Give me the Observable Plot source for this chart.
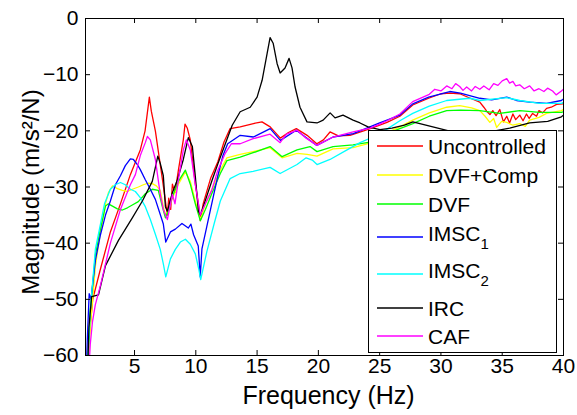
<!DOCTYPE html>
<html><head><meta charset="utf-8">
<script src="https://cdn.jsdelivr.net/npm/d3@7"></script>
<script src="https://cdn.jsdelivr.net/npm/@observablehq/plot@0.6"></script>
<style>body{margin:0;background:#fff}</style>
</head><body><div id="chart"></div>
<script>
const seriesNames = ["Uncontrolled","DVF+Comp","DVF","IMSC1","IMSC2","IRC","CAF"];
const seriesColors = ["#ff0000","#ffff00","#00ff00","#0000ff","#00ffff","#000000","#ff00ff"];

const uncontrolled = [[1.1,-64],[1.28,-57],[1.59,-50],[2.22,-44.6],[3.03,-38],[3.85,-33],[4.66,-27.8],[5.47,-23.4],[5.86,-20],[6.21,-14],[6.37,-16.5],[6.7,-20],[7.1,-26],[7.3,-29],[7.52,-32.5],[7.68,-35],[7.79,-32],[7.95,-34],[8.09,-29.5],[8.3,-31],[8.58,-27],[8.98,-21.6],[9.12,-18.8],[9.3,-19.5],[9.55,-21.6],[9.96,-29.5],[10.21,-33],[10.37,-36],[10.6,-33],[11.2,-28.5],[11.8,-25.5],[12.3,-22],[12.8,-19.6],[13.62,-19.3],[14.7,-18.7],[15.4,-18.4],[16.07,-19.3],[16.9,-21.3],[17.56,-20.3],[18.2,-19.6],[19.08,-20.8],[19.87,-22.3],[20.41,-21.6],[20.95,-20.2],[21.63,-20.9],[22.58,-20.8],[24.0,-19.8],[25.0,-19],[25.6,-18.5],[26.65,-17.4],[27.7,-15.4],[29.0,-14.2],[30.0,-13.4],[30.72,-13.3],[31.53,-13.4],[32.4,-14.2],[33.17,-14.9],[33.5,-15.8],[33.73,-16.5],[34.0,-17.1],[34.23,-16.4],[34.5,-17.3],[34.8,-16.2],[35.1,-18.4],[35.37,-17.4],[35.6,-18.6],[35.87,-17.0],[36.1,-18.0],[36.43,-17.2],[36.7,-18.2],[36.98,-17.0],[37.2,-17.8],[37.48,-16.9],[37.8,-17.4],[38.0,-16.4],[38.3,-16.8],[38.62,-16.0],[39.0,-15.8],[39.44,-15.3],[40,-15.2]];

const dvfComp = [[1.18,-64],[1.39,-55],[1.81,-44],[2.22,-38],[2.63,-33],[2.87,-31],[3.2,-29.8],[3.6,-30.3],[4.01,-30.6],[4.42,-30.8],[4.82,-30.4],[5.31,-30],[5.72,-29.6],[6.13,-29.3],[6.45,-29.4],[6.78,-29.8],[7.1,-30.6],[7.35,-33.5],[7.52,-35],[7.79,-34],[8.09,-32],[8.58,-29.5],[9.15,-27.3],[9.55,-29],[9.96,-32.5],[10.37,-35.8],[10.78,-33],[11.3,-30.5],[12.0,-27],[12.54,-24.8],[13.62,-24.2],[14.68,-23.7],[16.06,-23],[17.04,-24.8],[18.26,-24],[19.08,-24.2],[19.89,-24.5],[21.2,-23.2],[22.83,-23],[24.21,-22.2],[25.0,-21.2],[25.6,-20.3],[26.65,-19.3],[27.7,-18.1],[29.05,-16.8],[30.47,-15.8],[31.53,-15.5],[32.5,-15.9],[33.17,-16.4],[33.6,-17.4],[33.99,-18.5],[34.3,-17.8],[34.55,-19.4],[34.95,-18.3],[35.37,-18.5],[35.87,-19.0],[36.43,-18.7],[36.88,-19.2],[37.24,-18.1],[38.0,-17.6],[38.62,-16.9],[39.83,-16.4],[40,-16.2]];

const dvf = [[1.13,-64],[1.39,-52],[1.81,-42],[2.22,-37.5],[2.63,-33.4],[2.87,-33],[3.2,-33.4],[3.6,-33.9],[4.01,-34.1],[4.42,-33.7],[4.82,-33.2],[5.31,-32.6],[5.88,-31.2],[6.45,-30.4],[6.94,-30.6],[7.27,-33.5],[7.52,-35.5],[7.79,-34],[8.09,-31.7],[8.58,-29],[9.15,-27],[9.55,-29.5],[9.96,-33],[10.37,-36],[10.78,-34],[11.3,-31.2],[12.0,-27.6],[12.54,-25.3],[13.62,-24.7],[14.68,-23.9],[16.06,-22.8],[17.04,-24.6],[18.26,-23.4],[19.32,-22.8],[19.89,-23.7],[21.2,-22.8],[22.83,-22.5],[24.21,-22],[25.0,-21],[25.6,-20.5],[26.65,-19.6],[27.71,-18.7],[29.05,-17.4],[30.47,-16.4],[31.59,-16.3],[33.17,-16.4],[34.8,-16.9],[36.43,-16.4],[38.05,-16.7],[39.83,-16.7],[40,-16.6]];

const imsc1 = [[1.05,-64],[1.15,-57],[1.3,-49],[1.45,-50],[1.81,-43],[2.22,-38.5],[2.63,-35],[3.03,-32.5],[3.44,-29.6],[3.85,-28],[4.25,-26.2],[4.66,-25],[4.91,-25.1],[5.23,-26],[5.47,-26.9],[5.88,-28.7],[6.29,-30.4],[6.7,-32.2],[7.1,-34.9],[7.35,-36.6],[7.55,-39.8],[7.93,-38],[8.33,-37.5],[8.87,-36.5],[9.39,-37.3],[9.6,-36.6],[9.82,-38.5],[10.2,-40.5],[10.36,-46],[10.5,-41],[10.9,-37],[11.4,-32],[11.8,-28],[12.2,-24.5],[12.6,-22.3],[13.62,-20.8],[14.7,-21.1],[16.07,-19.6],[16.9,-21.7],[18.2,-19.9],[19.87,-22.6],[21.2,-21.1],[22.85,-20.5],[24.2,-19.3],[25.0,-18.6],[25.6,-18.1],[26.65,-17.2],[27.7,-15.2],[29.0,-14.0],[30.72,-13.0],[31.59,-13.3],[33.17,-14.2],[34.14,-14.5],[35.37,-14.0],[36.17,-14.6],[37.24,-14.9],[38.62,-15.1],[39.83,-14.6],[40,-14.3]];

const imsc2 = [[1.13,-64],[1.39,-52],[1.81,-41],[2.22,-36.6],[2.55,-33],[3.03,-30.4],[3.44,-29.6],[3.85,-29.2],[4.25,-29.6],[4.66,-30.4],[5.07,-30.8],[5.47,-31.9],[5.88,-33.5],[6.29,-35.8],[6.7,-38.4],[7.1,-41.1],[7.35,-43.7],[7.55,-46],[7.93,-42.8],[8.33,-41.1],[8.74,-39.8],[9.15,-39.3],[9.55,-40.2],[9.96,-41.9],[10.24,-44.6],[10.4,-46.5],[10.9,-41.5],[11.5,-36.5],[12.0,-32.5],[12.8,-28.5],[13.62,-27.6],[14.68,-27.2],[16.06,-26.5],[16.88,-27.6],[18.26,-26.0],[19.0,-24.8],[19.5,-25.2],[19.89,-26.0],[20.95,-25.1],[22.34,-23.4],[23.4,-22.1],[24.45,-21.1],[25.0,-20.4],[25.6,-19.7],[26.65,-18.2],[27.7,-16.9],[29.05,-15.6],[30.47,-14.6],[32.35,-14.2],[33.17,-14.6],[35.37,-14.1],[36.43,-14.6],[38.05,-15.1],[39.83,-15.1],[40,-14.9]];

const irc = [[1.16,-64],[1.28,-55],[1.5,-49.5],[2.06,-49.2],[2.63,-44],[3.69,-39.5],[4.82,-35.5],[5.64,-32.5],[6.45,-29],[6.9,-24.5],[7.1,-25.8],[7.35,-28],[7.52,-33.5],[7.68,-34.3],[8.09,-31],[8.5,-28.7],[8.98,-25.1],[9.39,-21.2],[9.72,-22.8],[9.96,-28.1],[10.21,-34.3],[10.37,-35],[10.61,-33.5],[11.34,-28.7],[11.83,-25.7],[12.97,-19],[13.62,-16.6],[14.44,-15.8],[15.0,-14],[15.41,-11],[15.82,-6.2],[16.06,-3.4],[16.31,-4.4],[16.63,-8],[16.88,-9.7],[17.28,-8.8],[17.61,-7.1],[17.85,-8.8],[18.1,-12.2],[18.5,-15.8],[19.07,-18.4],[19.89,-18.6],[20.39,-18.1],[20.96,-16.8],[21.36,-17.7],[22.01,-17.2],[22.83,-18.1],[23.4,-18.6],[24.05,-19.3],[25.02,-19.8],[26.0,-19.5],[27.02,-19.0],[27.71,-18.4],[29.34,-19.3],[30.96,-20.2],[32.61,-20.5],[33.63,-20.3],[35.61,-19.5],[37.24,-18.6],[38.71,-18.3],[39.83,-17.5],[40,-17.2]];

const caf = [[1.24,-64],[1.39,-58],[1.57,-54],[1.8,-51],[2.22,-47.5],[3.03,-40],[3.85,-34],[4.66,-29.6],[5.07,-27.8],[5.47,-24.4],[5.88,-22.1],[6.05,-21],[6.29,-21.6],[6.7,-25.1],[7.1,-31.3],[7.35,-34],[7.68,-35.8],[8.09,-31.3],[8.3,-33],[8.58,-28.7],[8.98,-23.4],[9.23,-21.6],[9.55,-23.4],[9.96,-29.6],[10.37,-35],[10.78,-33],[11.3,-30.6],[11.8,-27],[12.4,-24],[12.9,-22.3],[13.62,-22.3],[14.68,-21.4],[16.06,-20.6],[16.88,-22.1],[17.4,-20.6],[18.26,-19.9],[19.0,-21.3],[19.89,-22.6],[21.2,-21.1],[22.83,-20.2],[24.21,-19.5],[25.0,-18.8],[25.6,-18.2],[26.65,-17.0],[27.7,-14.8],[29.05,-13.5],[29.5,-12.6],[30.0,-12.9],[30.47,-12.0],[30.9,-12.5],[31.2,-11.6],[31.53,-12.1],[31.8,-12.8],[32.1,-12.2],[32.5,-12.9],[32.8,-12.1],[33.17,-12.6],[33.5,-12.0],[33.93,-12.7],[34.3,-11.6],[34.65,-11.9],[35.0,-11.1],[35.37,-10.7],[35.6,-11.5],[35.87,-11.2],[36.1,-12.0],[36.43,-11.8],[36.8,-12.5],[37.24,-12.0],[37.6,-12.9],[38.0,-12.5],[38.4,-13.0],[38.7,-12.4],[39.11,-12.9],[39.4,-13.6],[39.83,-12.9],[40,-12.6]];

const seriesData = [uncontrolled, dvfComp, dvf, imsc1, imsc2, irc, caf];
const xTicks = [5,10,15,20,25,30,35,40];
const yTicks = [0,-10,-20,-30,-40,-50,-60];
const legendLabels = [["Uncontrolled",""],["DVF+Comp",""],["DVF",""],["IMSC","1"],["IMSC","2"],["IRC",""],["CAF",""]];

const rows = [];
seriesData.forEach((s,i)=>s.forEach(([f,v])=>rows.push({series:seriesNames[i], f, v})));

const W=577, H=415, mt=18, mb=60, ml=85, mr=14;
const innerW = W-ml-mr, innerH = H-mt-mb;
const font = "'Liberation Sans', Arial, Helvetica, sans-serif";

const plot = Plot.plot({
  width: W, height: H, marginTop: mt, marginBottom: mb, marginLeft: ml, marginRight: mr,
  style: {fontFamily: font, background: "white", color: "black"},
  x: {domain: [1,40]},
  y: {domain: [-60,0]},
  color: {domain: seriesNames, range: seriesColors},
  marks: [
    Plot.line(rows, {x:"f", y:"v", z:"series", stroke:"series", strokeWidth:1.3, clip:true}),
    Plot.tickX(xTicks.filter(t=>t<40), {x:d=>d, insetTop: innerH-5, stroke:"black"}),
    Plot.tickX(xTicks.filter(t=>t<40), {x:d=>d, insetBottom: innerH-5, stroke:"black"}),
    Plot.tickY(yTicks.filter(t=>t<0 && t>-60), {y:d=>d, insetRight: innerW-5, stroke:"black"}),
    Plot.tickY(yTicks.filter(t=>t<0 && t>-60), {y:d=>d, insetLeft: innerW-5, stroke:"black"}),
    Plot.frame({stroke:"black"}),
    Plot.axisX(xTicks, {tickSize:0, tickPadding:3, fontSize:21, label:null}),
    Plot.axisY(yTicks, {tickSize:0, tickPadding:7, fontSize:21, label:null}),
    Plot.text(["Frequency (Hz)"], {frameAnchor:"bottom", lineAnchor:"middle", textAnchor:"middle", dy:40, dx:4, fontSize:25, fill:"black"}),
    Plot.text(["Magnitude (m/s²/N)"], {frameAnchor:"left", lineAnchor:"middle", textAnchor:"middle", rotate:-90, dx:-54, dy:5, fontSize:24, fill:"black"})
  ]
});

const svg = d3.select(plot);
const lg = svg.append("g").attr("font-family", font).attr("font-size", 21).attr("text-anchor","start");
lg.append("rect").attr("x",368.5).attr("y",130.5).attr("width",188).attr("height",222)
  .attr("fill","white").attr("stroke","black");
const rowY = [146,175,204,237,274,308,336];
legendLabels.forEach(([main,sub],i)=>{
  const y = rowY[i];
  lg.append("line").attr("x1",377).attr("x2",423).attr("y1",y).attr("y2",y)
    .attr("stroke",seriesColors[i]).attr("stroke-width",1.3);
  const t = lg.append("text").attr("x",428).attr("y", sub ? y-4 : y).attr("dy","0.36em")
    .attr("fill","black").attr("text-anchor","start").text(main);
  if (sub) t.append("tspan").attr("dy","0.55em").attr("font-size",15).text(sub);
});

document.getElementById("chart").appendChild(plot);
</script>
</body></html>
